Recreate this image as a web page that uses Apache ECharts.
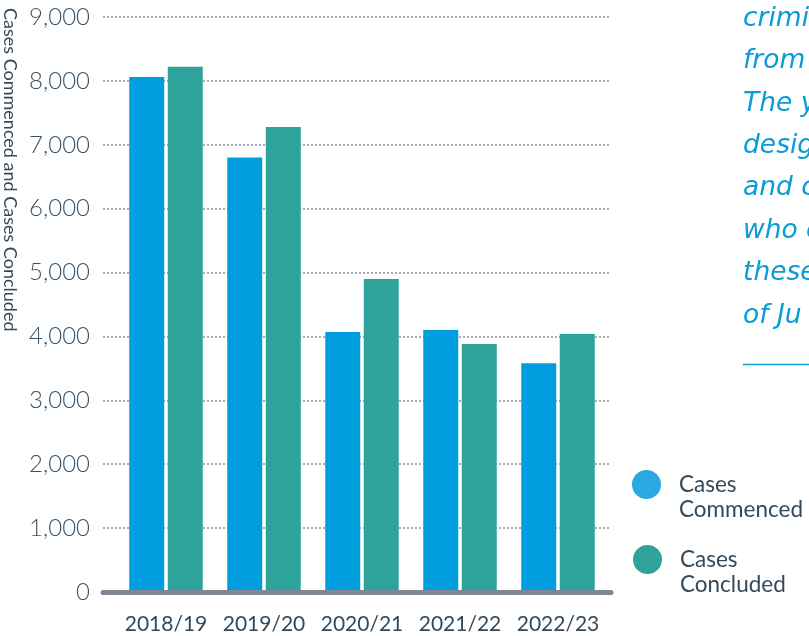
<!DOCTYPE html>
<html>
<head>
<meta charset="utf-8">
<script src="https://cdn.jsdelivr.net/npm/echarts@6/dist/echarts.min.js"></script>
<style>html,body{margin:0;padding:0;background:#fff;}#chart{width:809px;height:636px;}</style>
</head>
<body>
<div id="chart"></div>
<script>
const categories = ['2018/19', '2019/20', '2020/21', '2021/22', '2022/23'];
const commenced = [8060, 6800, 4070, 4100, 3580];
const concluded = [8220, 7280, 4900, 3880, 4040];
const seriesNames = ['Cases Commenced', 'Cases Concluded'];
const yAxisTitle = 'Cases Commenced and Cases Concluded';
const noteLines = ['crimi', 'from', 'The y', 'desig', 'and c', 'who c', 'these', 'of Ju'];

const BLUE = '#009edf';
const TEAL = '#2ea39b';
const INK = '#33495c';
const NOTE = '#0a9bd8';

const chart = echarts.init(document.getElementById('chart'), null, {renderer: 'canvas'});

const noteGraphics = noteLines.map((t, i) => ({
  type: 'text',
  x: 743,
  y: 19 + i * 42.4,
  style: {text: t, font: 'italic 26.5px "DejaVu Sans"', fill: NOTE, verticalAlign: 'middle', align: 'left'}
}));
noteGraphics.push({
  type: 'line',
  shape: {x1: 743, y1: 364.5, x2: 809, y2: 364.5},
  style: {stroke: NOTE, lineWidth: 1.5}
});

const legendBase = {
  orient: 'vertical',
  icon: 'circle',
  itemWidth: 29,
  itemHeight: 29,
  padding: 0,
  formatter: n => '\n' + n.replace(' ', '\n'),
  textStyle: {fontFamily: 'Lato', fontSize: 22.5, color: INK, lineHeight: 25, padding: [0, 0, 0, 13]}
};

chart.setOption({
  animation: false,
  backgroundColor: '#fff',
  color: [BLUE, TEAL],
  legend: [
    Object.assign({}, legendBase, {data: [{name: seriesNames[0], itemStyle: {color: '#29a9e1'}}], left: 632, top: 447}),
    Object.assign({}, legendBase, {data: [{name: seriesNames[1], itemStyle: {color: '#2fa39a'}}], left: 633, top: 522})
  ],
  grid: [
    {left: 103, right: 198, top: 17, bottom: 44},
    {left: 117, right: 202, top: 17, bottom: 44}
  ],
  xAxis: [
    {gridIndex: 0, type: 'category', data: categories, z: 5,
      axisLine: {show: true, lineStyle: {color: '#7f8694', width: 5}},
      axisTick: {show: false}, axisLabel: {show: false}, splitLine: {show: false}},
    {gridIndex: 1, type: 'category', data: categories,
      axisLine: {show: false}, axisTick: {show: false},
      axisLabel: {interval: 0, hideOverlap: false, fontFamily: 'Lato', fontSize: 21, color: INK, margin: 22}}
  ],
  yAxis: [
    {gridIndex: 0, type: 'value', min: 0, max: 9000, interval: 1000,
      axisLine: {show: false}, axisTick: {show: false},
      axisLabel: {fontFamily: 'Lato', fontWeight: 300, fontSize: 24, color: '#3a5366', margin: 13,
        formatter: v => v.toLocaleString('en-US')},
      splitLine: {lineStyle: {type: [2, 2], color: '#8c8fa0', width: 1.5}}},
    {gridIndex: 0, type: 'value', min: 0, max: 9000, offset: 93, position: 'left',
      name: yAxisTitle, nameLocation: 'end', nameRotate: -90, nameGap: 9,
      nameTextStyle: {align: 'left', verticalAlign: 'middle', fontFamily: 'Lato', fontSize: 18, color: INK},
      axisLine: {show: false}, axisTick: {show: false}, axisLabel: {show: false}, splitLine: {show: false}},
    {gridIndex: 1, type: 'value', min: 0, max: 9000, show: false}
  ],
  series: [
    {name: seriesNames[0], type: 'bar', xAxisIndex: 1, yAxisIndex: 2, data: commenced,
      barWidth: 35, barGap: '10%', itemStyle: {color: BLUE}},
    {name: seriesNames[1], type: 'bar', xAxisIndex: 1, yAxisIndex: 2, data: concluded,
      barWidth: 35, barGap: '10%', itemStyle: {color: TEAL}}
  ],
  graphic: noteGraphics
});
</script>
</body>
</html>
